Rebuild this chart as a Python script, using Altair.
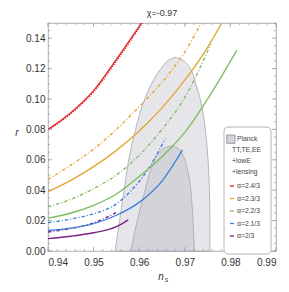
import altair as alt
import pandas as pd

W, H = 228, 228

# ---- data ----
red_ns = [0.94, 0.945, 0.95, 0.955, 0.9605]
red_r = [0.080, 0.091, 0.1055, 0.126, 0.150]
red_dot_ns = [0.9402, 0.9452, 0.9502, 0.9552, 0.9607]
red_dot_r = [0.0798, 0.0908, 0.1053, 0.1258, 0.150]

orange_dash_ns = [0.94, 0.945, 0.95, 0.955, 0.96, 0.965, 0.97, 0.9736]
orange_dash_r = [0.047, 0.0565, 0.067, 0.080, 0.095, 0.111, 0.131, 0.150]
orange_ns = [0.94, 0.945, 0.95, 0.955, 0.96, 0.965, 0.97, 0.975, 0.9781]
orange_r = [0.039, 0.0465, 0.0555, 0.0662, 0.079, 0.0942, 0.1124, 0.134, 0.150]

green_dash_ns = [0.94, 0.945, 0.95, 0.955, 0.96, 0.965, 0.97, 0.9757]
green_dash_r = [0.029, 0.034, 0.041, 0.050, 0.063, 0.080, 0.101, 0.136]
green_ns = [0.94, 0.945, 0.95, 0.955, 0.96, 0.965, 0.97, 0.975, 0.9814]
green_r = [0.0215, 0.025, 0.030, 0.0375, 0.049, 0.062, 0.078, 0.100, 0.132]

blue_dash_ns = [0.94, 0.945, 0.95, 0.955, 0.958, 0.962, 0.9657]
blue_dash_r = [0.0186, 0.021, 0.0245, 0.031, 0.039, 0.054, 0.074]
blue_ns = [0.94, 0.945, 0.95, 0.955, 0.96, 0.965, 0.9695]
blue_r = [0.0135, 0.015, 0.018, 0.0235, 0.032, 0.046, 0.0665]

purple_dash_ns = [0.94, 0.945, 0.95, 0.9549]
purple_dash_r = [0.0125, 0.0148, 0.0185, 0.0252]
purple_ns = [0.94, 0.945, 0.95, 0.955, 0.9576]
purple_r = [0.0082, 0.0097, 0.0120, 0.0160, 0.0205]

outer_r = [0.0, 0.02, 0.04, 0.06, 0.08, 0.10, 0.11, 0.12, 0.1265, 0.1274]
outer_left = [0.9547, 0.9557, 0.9567, 0.9577, 0.9592, 0.9612, 0.9627, 0.9648, 0.9670, 0.9679]
outer_right = [0.9755, 0.9755, 0.9754, 0.9751, 0.9745, 0.9734, 0.9724, 0.9712, 0.9689, 0.9679]

inner_r = [0.0, 0.014, 0.034, 0.052, 0.0645, 0.068, 0.0691]
inner_left = [0.9582, 0.9591, 0.9608, 0.9624, 0.9643, 0.9657, 0.9670]
inner_right = [0.9721, 0.9719, 0.9715, 0.9707, 0.9693, 0.9683, 0.9670]

x_labels = [0.94, 0.95, 0.96, 0.97, 0.98, 0.99]
y_labels = [0.0, 0.02, 0.04, 0.06, 0.08, 0.10, 0.12, 0.14]
x_minor = [round(0.94 + 0.002 * i, 3) for i in range(26)]
y_minor = [round(0.005 * i, 3) for i in range(31)]

legend_labels = ["α=2.4/3", "α=2.3/3", "α=2.2/3", "α=2.1/3", "α=2/3"]
legend_colors = ["#e0242a", "#e3a530", "#7cbc5c", "#3f7fdc", "#7a1f86"]
planck_lines = ["TT,TE,EE", "+lowE", "+lensing"]

# ---- chart ----
xs = alt.Scale(domain=[0.94, 0.99], nice=False, zero=False)
ys = alt.Scale(domain=[0, 0.15], nice=False, zero=False)
xaxis = alt.Axis(values=x_labels, format=".2f", title=None, ticks=False, domain=False,
                 grid=False, labelFontSize=10, labelColor="#333", labelPadding=6,
                 labelFont="Liberation Sans")
yaxis = alt.Axis(values=y_labels, format=".2f", title=None, ticks=False, domain=False,
                 grid=False, labelFontSize=10, labelColor="#333", labelPadding=3,
                 labelFont="Liberation Sans")

one = pd.DataFrame({"a": [0]})
layers = []


def region(r, left, right, fill):
    df = pd.DataFrame({"r": r, "left": left, "right": right})
    return alt.Chart(df).mark_area(orient="horizontal", interpolate="monotone", fill=fill,
                                   stroke="#a6a6b0", strokeWidth=0.8).encode(
        y=alt.Y("r:Q", scale=ys, axis=yaxis),
        x=alt.X("left:Q", scale=xs, axis=xaxis),
        x2="right:Q")


layers.append(region(outer_r, outer_left, outer_right, "#e6e6ea"))
layers.append(region(inner_r, inner_left, inner_right, "#d3d3da"))


def curve(ns, r, color, dash=None, width=1.3):
    df = pd.DataFrame({"ns": ns, "r": r})
    kw = dict(color=color, strokeWidth=width, interpolate="monotone", clip=True)
    if dash:
        kw["strokeDash"] = dash
    return alt.Chart(df).mark_line(**kw).encode(
        x=alt.X("ns:Q", scale=xs, axis=xaxis),
        y=alt.Y("r:Q", scale=ys, axis=yaxis))


dd = [3.5, 2, 1, 2]
layers += [
    curve(purple_ns, purple_r, legend_colors[4]),
    curve(purple_dash_ns, purple_dash_r, legend_colors[4], dd),
    curve(blue_ns, blue_r, legend_colors[3]),
    curve(blue_dash_ns, blue_dash_r, legend_colors[3], dd),
    curve(green_ns, green_r, legend_colors[2]),
    curve(green_dash_ns, green_dash_r, legend_colors[2], dd),
    curve(orange_ns, orange_r, legend_colors[1]),
    curve(orange_dash_ns, orange_dash_r, legend_colors[1], dd),
    curve(red_ns, red_r, legend_colors[0]),
    curve(red_dot_ns, red_dot_r, legend_colors[0], [1, 1.5], 1.6),
]

# frame ticks (inward)
tick_col = "#9a9a9a"
xmaj = pd.DataFrame({"v": x_labels})
xmin = pd.DataFrame({"v": x_minor})
ymaj = pd.DataFrame({"v": y_labels})
ymin = pd.DataFrame({"v": y_minor})
for df, ln in [(xmaj, 4), (xmin, 2)]:
    layers.append(alt.Chart(df).mark_rule(color=tick_col, strokeWidth=0.7).encode(
        x=alt.X("v:Q", scale=xs, axis=xaxis), y=alt.value(H), y2=alt.value(H - ln)))
    layers.append(alt.Chart(df).mark_rule(color=tick_col, strokeWidth=0.7).encode(
        x=alt.X("v:Q", scale=xs, axis=xaxis), y=alt.value(0), y2=alt.value(ln)))
for df, ln in [(ymaj, 4), (ymin, 2)]:
    layers.append(alt.Chart(df).mark_rule(color=tick_col, strokeWidth=0.7).encode(
        y=alt.Y("v:Q", scale=ys, axis=yaxis), x=alt.value(0), x2=alt.value(ln)))
    layers.append(alt.Chart(df).mark_rule(color=tick_col, strokeWidth=0.7).encode(
        y=alt.Y("v:Q", scale=ys, axis=yaxis), x=alt.value(W), x2=alt.value(W - ln)))

# title and axis labels
def txt(s, x, y, size=9, style="normal", align="center", color="#333"):
    return alt.Chart(one).mark_text(text=s, fontSize=size, font="Liberation Sans",
                                    fontStyle=style, align=align, baseline="middle",
                                    color=color).encode(x=alt.value(x), y=alt.value(y))


layers.append(txt("χ=-0.97", 114, -10, 9))
layers.append(txt("n", 113, 254, 10, "italic"))
layers.append(txt("s", 118.5, 257, 7, "italic"))
layers.append(txt("r", -31, 110, 10, "italic"))

# legend box
layers.append(alt.Chart(one).mark_rect(cornerRadius=4, fill="white", stroke="#a0a0a0",
                                        strokeWidth=0.8).encode(
    x=alt.value(176), x2=alt.value(223), y=alt.value(104), y2=alt.value(231)))
layers.append(alt.Chart(one).mark_rect(fill="#d3d3da", stroke="#8a8a94", strokeWidth=0.8).encode(
    x=alt.value(178.7), x2=alt.value(187), y=alt.value(112), y2=alt.value(120.3)))
layers.append(txt("Planck", 189, 115.5, 6.8, align="left", color="#444"))
for i, s in enumerate(planck_lines):
    layers.append(txt(s, 184, 126.5 + 11 * i, 6.8, align="left", color="#444"))
for i, (s, c) in enumerate(zip(legend_labels, legend_colors)):
    yy = 163 + 12.5 * i
    layers.append(alt.Chart(one).mark_rule(color=c, strokeWidth=1.3).encode(
        x=alt.value(182), x2=alt.value(186), y=alt.value(yy)))
    layers.append(txt(s, 189, yy, 6.8, align="left", color="#444"))

chart = alt.layer(*layers).properties(
    width=W, height=H, autosize="none",
    padding={"left": 40, "top": 15, "right": 5, "bottom": 33},
).configure_view(stroke="#9a9a9a", strokeWidth=0.8)

chart.save("out.html", embed_options={"renderer": "svg", "actions": False})
